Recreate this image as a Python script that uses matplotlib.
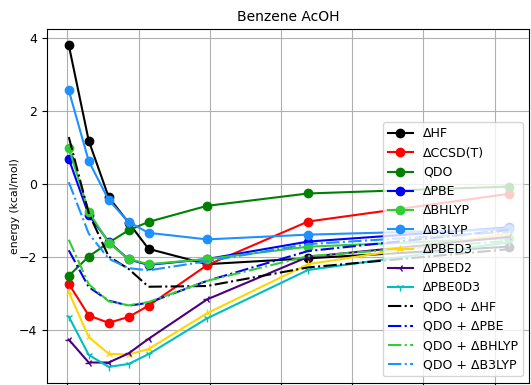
import matplotlib
matplotlib.use('Agg')
import matplotlib.pyplot as plt

# intermolecular distance (Angstrom)
dist = [2.51, 2.65, 2.79, 2.93, 3.07, 3.48, 4.19, 5.60]

d_hf = [3.81, 1.19, -0.36, -1.06, -1.78, -2.20, -2.04, -1.72]
d_ccsdt = [-2.74, -3.61, -3.81, -3.65, -3.34, -2.23, -1.03, -0.27]
qdo = [-2.52, -1.99, -1.61, -1.27, -1.04, -0.60, -0.26, -0.07]
d_pbe = [0.69, -0.85, -1.58, -2.07, -2.22, -2.06, -1.58, -1.19]
d_bhlyp = [0.99, -0.76, -1.61, -2.06, -2.20, -2.06, -1.72, -1.49]
d_b3lyp = [2.57, 0.63, -0.44, -1.04, -1.34, -1.52, -1.39, -1.24]
d_pbed3 = [-2.97, -4.20, -4.66, -4.68, -4.53, -3.55, -2.20, -1.36]
d_pbed2 = [-4.27, -4.90, -4.90, -4.65, -4.25, -3.17, -2.00, -1.45]
d_pbe0d3 = [-3.64, -4.69, -5.02, -4.94, -4.67, -3.69, -2.36, -1.60]
qdo_hf = [1.29, -0.80, -1.99, -2.33, -2.82, -2.80, -2.29, -1.79]
qdo_pbe = [-1.82, -2.83, -3.20, -3.34, -3.26, -2.66, -1.84, -1.26]
qdo_bhlyp = [-1.53, -2.75, -3.22, -3.33, -3.24, -2.66, -1.98, -1.56]
qdo_b3lyp = [0.05, -1.36, -2.05, -2.31, -2.37, -2.12, -1.65, -1.31]

plt.rcParams['font.size'] = 9

fig = plt.figure(figsize=(5.31, 3.85), dpi=100)
ax = fig.add_axes([47 / 531, 1 - 382.7 / 385, 482 / 531, 353.4 / 385])

ax.plot(dist, d_hf, 'o-', color='black', label='ΔHF')
ax.plot(dist, d_ccsdt, 'o-', color='red', label='ΔCCSD(T)')
ax.plot(dist, qdo, 'o-', color='green', label='QDO')
ax.plot(dist, d_pbe, 'o-', color='blue', label='ΔPBE')
ax.plot(dist, d_bhlyp, 'o-', color='limegreen', label='ΔBHLYP')
ax.plot(dist, d_b3lyp, 'o-', color='dodgerblue', label='ΔB3LYP')
ax.plot(dist, d_pbed3, '2-', color='gold', label='ΔPBED3')
ax.plot(dist, d_pbed2, '3-', color='indigo', label='ΔPBED2')
ax.plot(dist, d_pbe0d3, '1-', color='c', label='ΔPBE0D3')
ax.plot(dist, qdo_hf, '-.', color='black', label='QDO + ΔHF')
ax.plot(dist, qdo_pbe, '-.', color='blue', label='QDO + ΔPBE')
ax.plot(dist, qdo_bhlyp, '-.', color='limegreen', label='QDO + ΔBHLYP')
ax.plot(dist, qdo_b3lyp, '-.', color='dodgerblue', label='QDO + ΔB3LYP')

ax.set_xticks([2.5, 3.0, 3.5, 4.0, 4.5, 5.0, 5.5])
ax.set_xlim(2.357, 5.742)
ax.set_yticks([-4, -2, 0, 2, 4])
ax.set_ylim(-5.454, 4.247)
ax.set_ylabel('energy (kcal/mol)', fontsize=7.8, labelpad=-1)
ax.set_title('Benzene AcOH', fontsize=10)
ax.grid(True)
ax.legend(loc='lower right')

fig.savefig('out.png', dpi=100)
